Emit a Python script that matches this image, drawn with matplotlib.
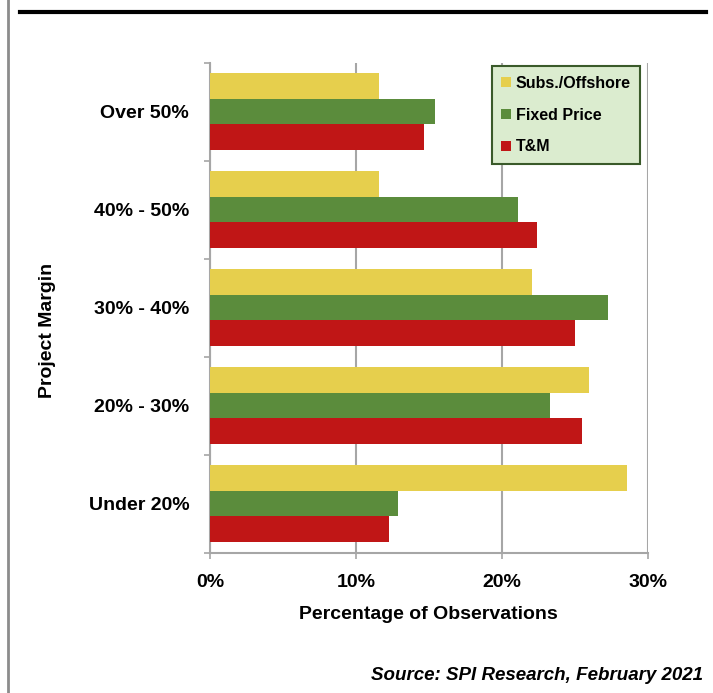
import matplotlib
matplotlib.use("Agg")
import matplotlib.pyplot as plt
from matplotlib.lines import Line2D
from matplotlib.ticker import FuncFormatter
import numpy as np

# data, bottom to top
categories = ["Under 20%", "20% - 30%", "30% - 40%", "40% - 50%", "Over 50%"]
subs_offshore = [28.6, 26.0, 22.1, 11.6, 11.6]
fixed_price = [12.9, 23.3, 27.3, 21.1, 15.4]
t_and_m = [12.25, 25.5, 25.0, 22.4, 14.7]
series_names = ["Subs./Offshore", "Fixed Price", "T&M"]
x_ticks = [0, 10, 20, 30]

YELLOW = "#e6cf4d"
GREEN = "#5b8c3c"
RED = "#c01616"
GRID = "#a6a6a6"

plt.rcParams['font.family'] = ['Liberation Sans', 'DejaVu Sans']
plt.rcParams['font.weight'] = 'bold'

fig = plt.figure(figsize=(7.13, 6.93), dpi=100)
ax = fig.add_axes([0.2945, 0.2025, 0.6139, 0.707])

y = np.arange(len(categories))
h = 0.261
ax.barh(y + h, subs_offshore, height=h, color=YELLOW, label=series_names[0], zorder=3)
ax.barh(y, fixed_price, height=h, color=GREEN, label=series_names[1], zorder=3)
ax.barh(y - h, t_and_m, height=h, color=RED, label=series_names[2], zorder=3)

ax.set_xlim(0, 30)
ax.set_ylim(-0.5, len(categories) - 0.5)

# x axis
ax.set_xticks(x_ticks)
ax.xaxis.set_major_formatter(FuncFormatter(lambda v, p: f"{int(v)}%"))
ax.tick_params(axis='x', direction='out', length=4, width=1.2, color=GRID,
               labelsize=14, pad=11)
ax.grid(axis='x', color=GRID, linewidth=1.5, zorder=0)
ax.set_xlabel("Percentage of Observations", fontsize=14, fontweight='bold', labelpad=11)

# y axis: labels at centres, ticks at boundaries
ax.set_yticks(y)
ax.set_yticklabels(categories)
ax.set_yticks(np.arange(-0.5, len(categories)), minor=True)
ax.tick_params(axis='y', which='major', length=0, labelsize=14, pad=15)
ax.tick_params(axis='y', which='minor', direction='out', length=4, width=1.2, color=GRID)

for s in ['top', 'right']:
    ax.spines[s].set_visible(False)
for s in ['left', 'bottom']:
    ax.spines[s].set_color(GRID)
    ax.spines[s].set_linewidth(1.5)

fig.text(47 / 713, 1 - 330 / 693, "Project Margin", rotation=90, ha='center', va='center',
         fontsize=14, fontweight='bold')

leg = ax.legend(loc='upper left', bbox_to_anchor=(0.644, 0.993), borderaxespad=0,
                fontsize=11.5, frameon=True, fancybox=False, handlelength=0.6,
                handleheight=0.6, handletextpad=0.3, labelspacing=1.05,
                borderpad=0.6)
leg.get_frame().set_facecolor("#dbeccf")
leg.get_frame().set_edgecolor("#3a5a2a")
leg.get_frame().set_linewidth(1.5)
leg.get_frame().set_alpha(1)

fig.text(703 / 713, 1 - 676 / 693, "Source: SPI Research, February 2021", ha='right',
         va='center', fontsize=13.5, fontweight='bold', style='italic')

# page frame lines
fig.add_artist(Line2D([8 / 713, 8 / 713], [0, 1], color="#8c8c8c", linewidth=2))
fig.add_artist(Line2D([20 / 713, 706 / 713], [1 - 12 / 693, 1 - 12 / 693], color="black", linewidth=3))

fig.savefig("out.png", dpi=100)
